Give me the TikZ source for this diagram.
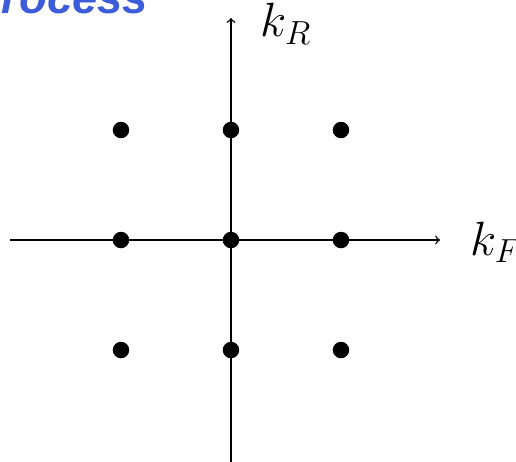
\documentclass[tikz,border=0pt]{standalone}
\usepackage{fontspec}
\usepackage{amsmath}
\newfontfamily\titlefont{Liberation Sans}
\usetikzlibrary{positioning}
\definecolor{titleblue}{RGB}{60,92,218}
\tikzset{
  site/.style={circle,fill=black,inner sep=0pt,minimum size=3mm},
  axis/.style={line width=.75pt,->},
  lab/.style={font=\fontsize{23.5}{28}\selectfont,inner sep=0pt},
  title/.style={font=\titlefont\bfseries\itshape\fontsize{23.5}{28}\selectfont,text=titleblue,inner sep=0pt}
}
\begin{document}
\begin{tikzpicture}[x=2cm,y=2cm]
  \useasboundingbox (-2.1,-2.018) rectangle (2.591,2.182);
  \node[title,anchor=base east] (ttl) at (-0.75,2.055) {Process};
  % axes
  \coordinate (xl) at (-2.009,0);
  \coordinate (xr) at (1.9,0);
  \coordinate (yb) at (0,-2.03);
  \coordinate (yt) at (0,2.018);
  \draw[axis] (xl)--(xr);
  \draw[axis] (yb)--(yt);
  \node[lab] (kF) at (2.41,-0.02) {$k_F$};
  \node[lab] (kR) at (0.5,1.965) {$k_R$};
  % lattice points
  \foreach \i in {-1,0,1}
    \foreach \j in {-1,0,1}
      \node[site] (p\i\j) at (\i,\j) {};
\end{tikzpicture}
\end{document}
